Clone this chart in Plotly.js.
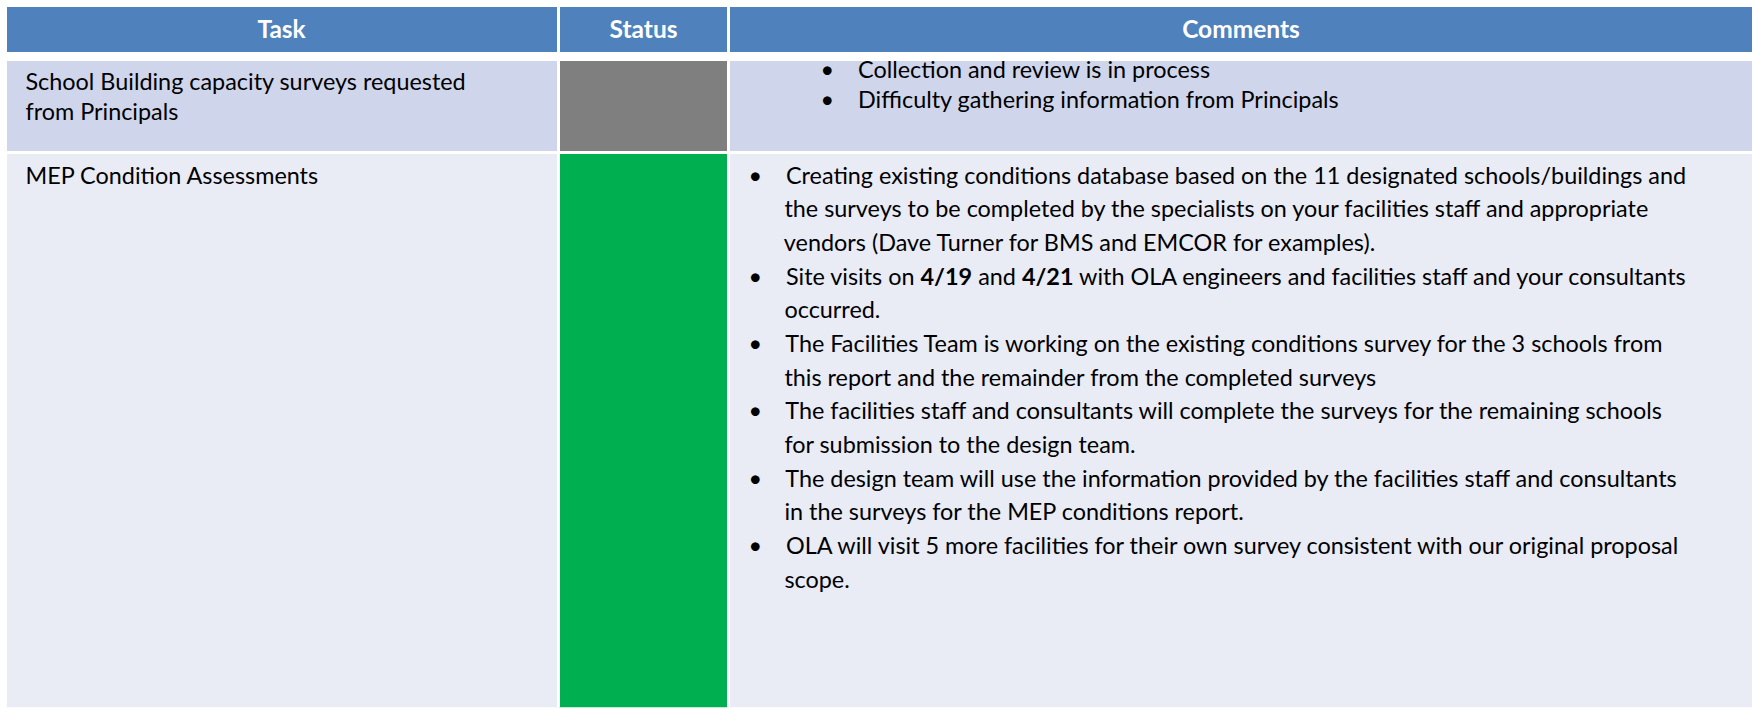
<!DOCTYPE html>
<html><head><meta charset="utf-8">
<script src="https://cdn.plot.ly/plotly-3.0.1.min.js"></script>
<style>html,body{margin:0;padding:0;background:#fff;overflow:hidden;} #chart{width:1754px;height:708px;}</style>
</head><body><div id="chart"></div>
<script>
// ---- data ----
const columnNames = ["Task", "Status", "Comments"];
const tasks = [
  ["School Building capacity surveys requested", "from Principals"],
  ["MEP Condition Assessments"]
];
const statusColors = ["#7F7F7F", "#00B050"];
const rowFills = ["#CFD5EA", "#E9EBF5"];
const commentsRow1 = [
  ["Collection and review is in process"],
  ["Difficulty gathering information from Principals"]
];
const commentsRow2 = [
  ["Creating existing conditions database based on the 11 designated schools/buildings and",
   "the surveys to be completed by the specialists on your facilities staff and appropriate",
   "vendors (Dave Turner for BMS and EMCOR for examples)."],
  ["Site visits on <b>4/19</b> and <b>4/21</b> with OLA engineers and facilities staff and your consultants",
   "occurred."],
  ["The Facilities Team is working on the existing conditions survey for the 3 schools from",
   "this report and the remainder from the completed surveys"],
  ["The facilities staff and consultants will complete the surveys for the remaining schools",
   "for submission to the design team."],
  ["The design team will use the information provided by the facilities staff and consultants",
   "in the surveys for the MEP conditions report."],
  ["OLA will visit 5 more facilities for their own survey consistent with our original proposal",
   "scope."]
];

// ---- text building ----
const FONT = "Lato, 'Open Sans', sans-serif";
const GLYPH = 23.4;      // visible text size
const LINE = 25.9;       // cell font size -> 1.3em line pitch (second row)
const LINE_R1 = 23.1;    // tighter pitch in the first row
const NB = "\u00a0";
const pad = n => NB.repeat(n);
const sized = s => '<span style="font-size:' + GLYPH + 'px">' + s + '</span>';
function bullets(paras, lead, gap, cont, extraLines) {
  const lines = [];
  paras.forEach(p => p.forEach((ln, i) => {
    lines.push(sized(i === 0 ? pad(lead) + "\u2022" + pad(gap) + ln : pad(cont) + ln));
  }));
  for (let k = 0; k < extraLines; k++) lines.push(sized(NB));
  return lines.join("<br>");
}
const taskCells = tasks.map(t => {
  const s = t.map(l => sized(pad(2) + l)).join("<br>");
  return t.length > 1 ? s : s + "<br>";
});
const statusCells = statusColors.map(() => "");
const row1CommentText = bullets(commentsRow1, 14, 4, 20, 0);
const commentCells = ["", bullets(commentsRow2, 2, 4, 8, 4)];

// ---- layout geometry ----
const W = 1754, H = 708;
const colW = [553, 170, 1025];
const left = 5.5;
const xDom = [left / W, 1];
const colSum = colW.reduce((a, b) => a + b, 0);
const commentsLeft = left + (colW[0] + colW[1]) / colSum * (W - left);
const EMPTY_HEADER = 16;   // height plotly gives a table without header values
const ROW1_H = 93.3;
const CLEAR = "rgba(0,0,0,0)";

// header block
const headerTrace = {
  type: "table",
  domain: {x: xDom, y: [1 - 56 / H, 1 - 5.5 / H]},
  columnwidth: colW,
  header: {
    values: columnNames.map(c => "<b>" + c + "</b>"),
    align: "center",
    height: 48,
    fill: {color: "#4F81BD"},
    line: {color: "#FFFFFF", width: 3},
    font: {family: FONT, size: 24.5, color: "#FFFFFF"}
  },
  cells: {values: [[], [], []]}
};

// body block
const bodyTrace = {
  type: "table",
  domain: {x: xDom, y: [0, 1 - (59.2 - EMPTY_HEADER) / H]},
  columnwidth: colW,
  header: {values: [], line: {width: 0, color: "#FFFFFF"}, fill: {color: "#FFFFFF"}},
  cells: {
    values: [taskCells, statusCells, commentCells],
    align: ["left", "center", "left"],
    height: ROW1_H,
    fill: {color: [rowFills, statusColors, rowFills]},
    line: {color: "#FFFFFF", width: 3},
    font: {family: FONT, size: [[LINE_R1, LINE], [LINE, LINE], [LINE, LINE]], color: "#000000"}
  }
};

// first-row comments sit nearer the top of their cell
const row1CommentsTrace = {
  type: "table",
  domain: {x: [commentsLeft / W, 1], y: [0, 1 - (47 - EMPTY_HEADER) / H]},
  columnwidth: [1],
  header: {values: [], line: {width: 0, color: CLEAR}, fill: {color: CLEAR}},
  cells: {
    values: [[row1CommentText]],
    align: "left",
    height: ROW1_H,
    fill: {color: CLEAR},
    line: {color: CLEAR, width: 0},
    font: {family: FONT, size: LINE_R1, color: "#000000"}
  }
};

Plotly.newPlot("chart", [bodyTrace, headerTrace, row1CommentsTrace], {
  width: W, height: H,
  margin: {l: 0, r: 0, t: 0, b: 0},
  paper_bgcolor: "#FFFFFF"
}, {displayModeBar: false, staticPlot: true});
</script>
</body></html>
